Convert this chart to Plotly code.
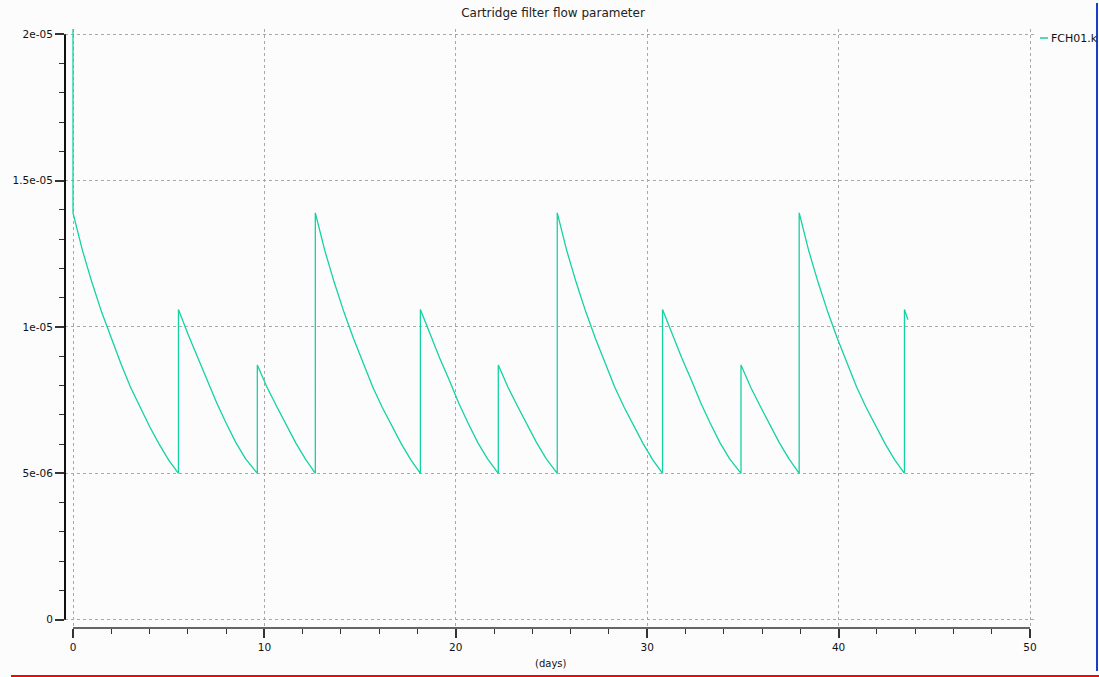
import plotly.graph_objects as go

# ---- data ----
days = [
    0, 0, 0.5, 1.0, 1.5, 2.0, 2.5, 3.0, 3.5, 4.0, 4.5, 5.0, 5.51,
    5.51, 6.01, 6.51, 7.01, 7.51, 8.01, 8.51, 9.01, 9.63,
    9.63, 10.13, 10.63, 11.13, 11.63, 12.13, 12.66,
    12.66, 13.16, 13.66, 14.16, 14.66, 15.16, 15.66, 16.16, 16.66, 17.16, 17.66, 18.15,
    18.15, 18.65, 19.15, 19.65, 20.15, 20.65, 21.15, 21.65, 22.22,
    22.22, 22.72, 23.22, 23.72, 24.22, 24.72, 25.3,
    25.3, 25.8, 26.3, 26.8, 27.3, 27.8, 28.3, 28.8, 29.3, 29.8, 30.3, 30.8,
    30.8, 31.3, 31.8, 32.3, 32.8, 33.3, 33.8, 34.3, 34.9,
    34.9, 35.4, 35.9, 36.4, 36.9, 37.4, 37.94,
    37.94, 38.44, 38.94, 39.44, 39.94, 40.44, 40.94, 41.44, 41.94, 42.44, 42.94, 43.44,
    43.44, 43.62,
]
fch01_k = [
    21.0e-6, 13.9e-6, 12.6e-6, 11.5e-6, 10.5e-6, 9.6e-6, 8.75e-6, 7.95e-6, 7.25e-6, 6.6e-6, 6.0e-6, 5.45e-6, 5.0e-6,
    10.6e-6, 9.75e-6, 8.95e-6, 8.2e-6, 7.4e-6, 6.7e-6, 6.05e-6, 5.5e-6, 5.0e-6,
    8.7e-6, 7.95e-6, 7.3e-6, 6.65e-6, 6.05e-6, 5.5e-6, 5.0e-6,
    13.9e-6, 12.6e-6, 11.5e-6, 10.5e-6, 9.6e-6, 8.75e-6, 7.95e-6, 7.25e-6, 6.6e-6, 6.0e-6, 5.45e-6, 5.0e-6,
    10.6e-6, 9.75e-6, 8.95e-6, 8.2e-6, 7.4e-6, 6.7e-6, 6.05e-6, 5.5e-6, 5.0e-6,
    8.7e-6, 7.95e-6, 7.3e-6, 6.65e-6, 6.05e-6, 5.5e-6, 5.0e-6,
    13.9e-6, 12.6e-6, 11.5e-6, 10.5e-6, 9.6e-6, 8.75e-6, 7.95e-6, 7.25e-6, 6.6e-6, 6.0e-6, 5.45e-6, 5.0e-6,
    10.6e-6, 9.75e-6, 8.95e-6, 8.2e-6, 7.4e-6, 6.7e-6, 6.05e-6, 5.5e-6, 5.0e-6,
    8.7e-6, 7.95e-6, 7.3e-6, 6.65e-6, 6.05e-6, 5.5e-6, 5.0e-6,
    13.9e-6, 12.6e-6, 11.5e-6, 10.5e-6, 9.6e-6, 8.75e-6, 7.95e-6, 7.25e-6, 6.6e-6, 6.0e-6, 5.45e-6, 5.0e-6,
    10.6e-6, 10.25e-6,
]
series_name = "FCH01.k"
y_tickvals = [0, 5e-6, 1e-5, 1.5e-5, 2e-5]
y_ticktext = ["0", "5e-06", "1e-05", "1.5e-05", "2e-05"]
x_tickvals = [0, 10, 20, 30, 40, 50]
x_ticktext = ["0", "10", "20", "30", "40", "50"]
title_text = "Cartridge filter flow parameter"
x_title = "(days)"

# ---- layout geometry ----
W, H = 1099, 677
L, R, T, B = 65, 1035, 29, 628
pw, ph = R - L, B - T

def px(xp):
    return (xp - L) / pw

def py(yp):
    return (B - yp) / ph

LINE_COLOR = "#14d2a2"
FONT = "DejaVu Sans, Verdana, sans-serif"

fig = go.Figure()
fig.add_trace(go.Scatter(
    x=days, y=fch01_k, mode="lines", name=series_name,
    line=dict(color=LINE_COLOR, width=1.3, shape="linear"), showlegend=False,
    hoverinfo="skip",
))

fig.update_layout(
    width=W, height=H,
    margin=dict(l=L, r=W - R, t=T, b=H - B),
    paper_bgcolor="#fcfcfc", plot_bgcolor="#fcfcfc",
    font=dict(family=FONT, size=11, color="#111"),
    title=dict(text=title_text, x=553 / W, xanchor="center",
               y=1 - 13 / H, yanchor="middle", yref="container",
               font=dict(family=FONT, size=12, color="#222")),
)

fig.update_xaxes(
    range=[-0.418, 50.26], showline=False, zeroline=False,
    tickvals=x_tickvals, ticktext=x_ticktext,
    ticks="outside", ticklen=9, tickwidth=1.5, tickcolor="#333",
    showgrid=True, gridcolor="#a8a8a8", griddash="dot", gridwidth=1,
    minor=dict(dtick=2, tick0=0, ticks="outside", ticklen=5, tickwidth=1.2,
               tickcolor="#333", showgrid=False),
    tickfont=dict(family=FONT, size=10.5, color="#111"),
)
fig.update_yaxes(
    range=[-0.284e-6, 20.18e-6], showline=False, zeroline=False,
    tickvals=y_tickvals, ticktext=y_ticktext,
    ticks="outside", ticklen=9, tickwidth=1.5, tickcolor="#333",
    showgrid=True, gridcolor="#a8a8a8", griddash="dot", gridwidth=1,
    minor=dict(dtick=1e-6, tick0=0, ticks="outside", ticklen=5, tickwidth=1.2,
               tickcolor="#333", showgrid=False),
    tickfont=dict(family=FONT, size=10.5, color="#111"),
)

shapes = [
    # y axis line
    dict(type="line", xref="paper", yref="y", x0=0, x1=0, y0=0, y1=2e-5,
         line=dict(color="#111", width=2)),
    # x axis line
    dict(type="line", xref="x", yref="paper", x0=0, x1=50, y0=0, y1=0,
         line=dict(color="#333", width=1.5)),
    # legend sample
    dict(type="line", xref="paper", yref="paper", x0=px(1040), x1=px(1048),
         y0=py(38), y1=py(38), line=dict(color=LINE_COLOR, width=1.5)),
    # frame lines
    dict(type="line", xref="paper", yref="paper", x0=px(1097), x1=px(1097),
         y0=py(3), y1=py(671), line=dict(color="#1a3fc4", width=2)),
    dict(type="line", xref="paper", yref="paper", x0=px(11), x1=px(1099),
         y0=py(676), y1=py(676), line=dict(color="#ff0000", width=2)),
]
fig.update_layout(shapes=shapes)

fig.add_annotation(text=series_name, xref="paper", yref="paper",
                   x=px(1049), y=py(38), xanchor="left", yanchor="middle",
                   showarrow=False, font=dict(family=FONT, size=11, color="#111"))
fig.add_annotation(text=x_title, xref="paper", yref="paper",
                   x=px(551), y=py(663), xanchor="center", yanchor="middle",
                   showarrow=False, font=dict(family=FONT, size=10, color="#111"))

fig.write_html(
    "out.html",
    config={"displayModeBar": False},
    post_script="document.body.style.margin='0';document.body.style.overflow='hidden';",
)
